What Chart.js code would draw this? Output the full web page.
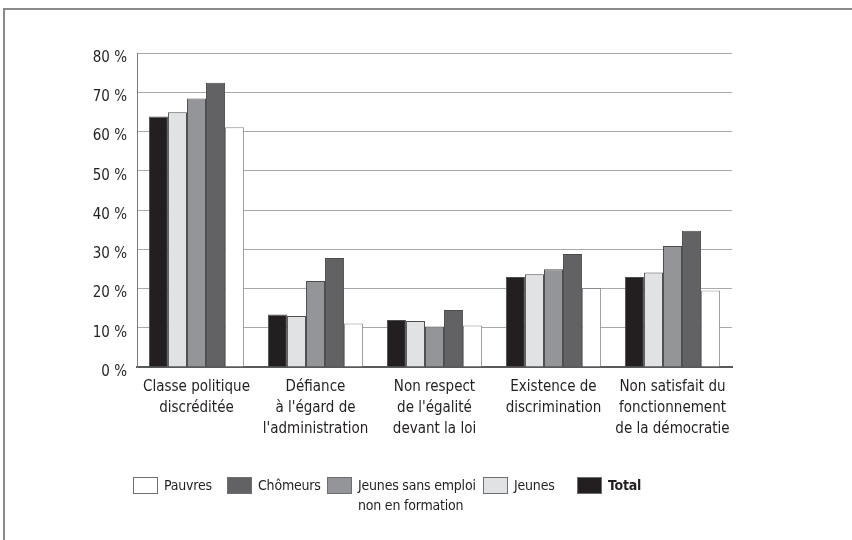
<!DOCTYPE html>
<html>
<head>
<meta charset="utf-8">
<script src="https://cdn.jsdelivr.net/npm/chart.js@4/dist/chart.umd.min.js"></script>
<style>
  body { margin: 0; background: #fff; }
  #wrap { position: relative; width: 852px; height: 540px; overflow: hidden; }
  #frame { position: absolute; left: 3px; top: 8px; width: 900px; height: 600px;
    border-top: 2px solid #8a8a8a; border-left: 2px solid #8a8a8a; }
  #legend { position: absolute; left: 0; top: 477px; width: 852px; height: 50px;
    font-family: "DejaVu Sans Condensed", sans-serif; font-size: 14px; color: #231f20; letter-spacing: -0.2px; }
  .item { position: absolute; top: 0; display: flex; align-items: flex-start; }
  .box { width: 23px; height: 15px; border: 1px solid #6d6e71; margin-right: 6px; flex: none; }
  .label { line-height: 20px; margin-top: -2px; white-space: nowrap; }
</style>
</head>
<body>
<div id="wrap">
  <div id="frame"></div>
  <canvas id="chart" width="852" height="540"></canvas>
  <div id="legend"></div>
</div>
<script>
const categories = [
  ["Classe politique", "discréditée"],
  ["Défiance", "à l'égard de", "l'administration"],
  ["Non respect", "de l'égalité", "devant la loi"],
  ["Existence de", "discrimination"],
  ["Non satisfait du", "fonctionnement", "de la démocratie"]
];

// bar order inside each group: Total, Jeunes, Jeunes sans emploi, Chômeurs, Pauvres
const total = [63.8, 13.4, 12.0, 22.9, 22.9];
const jeunes = [64.9, 13.0, 11.7, 23.6, 24.1];
const jeunesSansEmploi = [68.4, 21.9, 10.3, 24.9, 30.8];
const chomeurs = [72.4, 27.8, 14.5, 28.8, 34.7];
const pauvres = [61.1, 11.1, 10.6, 20.1, 19.5];

const seriesNames = ["Total", "Jeunes", ["Jeunes sans emploi", "non en formation"], "Chômeurs", "Pauvres"];
const seriesColors = ["#231f20", "#e1e2e4", "#939598", "#626264", "#ffffff"];
const yTicks = [0, 10, 20, 30, 40, 50, 60, 70, 80];

// left edge of each legend entry (Pauvres .. Total)
const legendLeft = [133, 227, 327, 483, 577];

const FONT = "'DejaVu Sans Condensed', sans-serif";
const seriesValues = [total, jeunes, jeunesSansEmploi, chomeurs, pauvres];

const datasets = seriesValues.map((vals, i) => ({
  label: Array.isArray(seriesNames[i]) ? seriesNames[i].join(" ") : seriesNames[i],
  data: vals,
  backgroundColor: seriesColors[i],
  borderColor: i === 4 ? "#8a8b8d" : "#4d4d4f",
  borderWidth: 1,
  borderSkipped: "bottom",
  categoryPercentage: 0.8,
  barPercentage: 1
}));

new Chart(document.getElementById("chart"), {
  type: "bar",
  data: { labels: categories, datasets },
  options: {
    responsive: false,
    animation: false,
    layout: { padding: { left: 77, right: 120, top: 53, bottom: 93 } },
    plugins: { legend: { display: false }, tooltip: { enabled: false } },
    scales: {
      x: {
        grid: { display: false, drawTicks: false },
        border: { display: true, color: "#58595b", width: 2 },
        ticks: {
          color: "#231f20",
          font: { family: FONT, size: 15, lineHeight: 1.4 },
          padding: 10,
          maxRotation: 0,
          autoSkip: false
        },
        afterFit: s => { s.height = 80; }
      },
      y: {
        min: 0,
        max: 80,
        afterBuildTicks: s => { s.ticks = yTicks.map(v => ({ value: v })); },
        grid: {
          drawTicks: false,
          color: ctx => ctx.tick && ctx.tick.value === 0 ? "rgba(0,0,0,0)" : "#a7a9ac",
          lineWidth: 1
        },
        border: { display: true, color: "#77787b", width: 1 },
        ticks: {
          color: "#231f20",
          font: { family: FONT, size: 15 },
          padding: 10,
          labelOffset: 5,
          callback: v => v + " %"
        },
        afterFit: s => { s.width = 60; }
      }
    }
  }
});

// legend in reverse series order, as in the original
const legend = document.getElementById("legend");
for (let i = seriesNames.length - 1; i >= 0; i--) {
  const item = document.createElement("div");
  item.className = "item";
  item.style.left = legendLeft[seriesNames.length - 1 - i] + "px";
  const box = document.createElement("div");
  box.className = "box";
  box.style.background = seriesColors[i];
  const label = document.createElement("div");
  label.className = "label";
  const name = seriesNames[i];
  label.innerHTML = Array.isArray(name) ? name.join("<br>") : name;
  if (name === "Total") label.style.fontWeight = "bold";
  item.appendChild(box);
  item.appendChild(label);
  legend.appendChild(item);
}
</script>
</body>
</html>
